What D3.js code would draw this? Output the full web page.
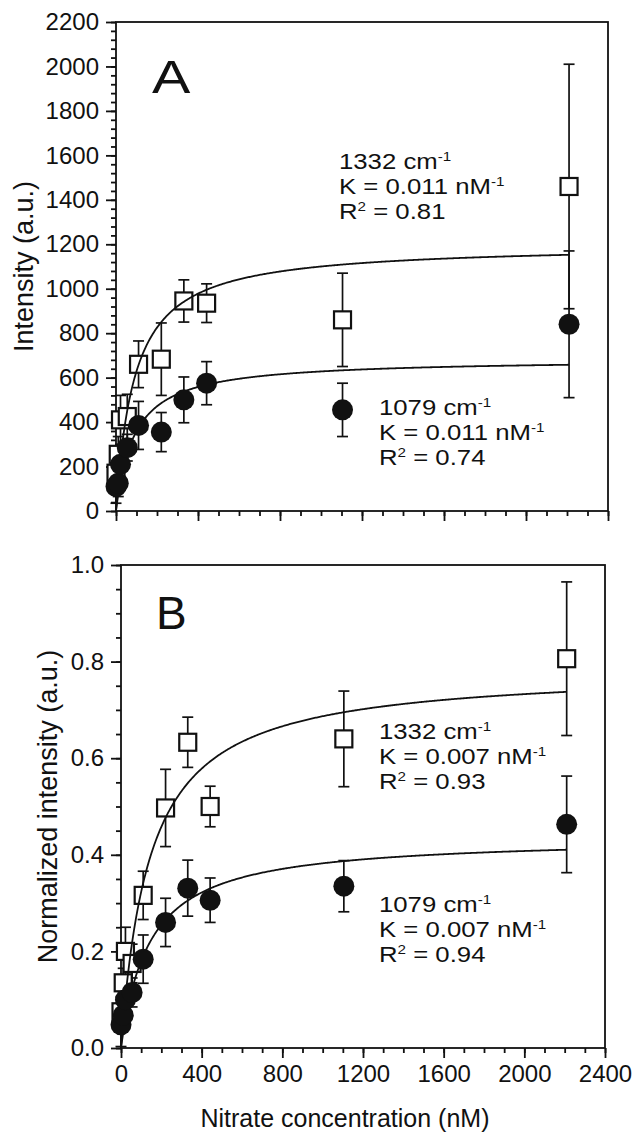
<!DOCTYPE html>
<html>
<head>
<meta charset="utf-8">
<script src="https://cdn.jsdelivr.net/npm/d3@7"></script>
<style>
  body { margin: 0; background: #fff; }
  text { font-family: "Liberation Sans", Arial, sans-serif; fill: #111; }
</style>
</head>
<body>
<div id="chart"></div>
<script>
// nitrate concentrations (nM), same for every series
var conc = [0, 11, 22, 55, 110, 221, 331, 442, 1105, 2210];

// panel A: raw intensity
var sqA     = [170, 255, 410, 425, 660, 683, 945, 935, 860, 1460];
var sqAErr  = [40, 80, 110, 100, 105, 163, 95, 87, 210, 550];
var dotA    = [110, 125, 210, 285, 385, 355, 500, 575, 455, 840];
var dotAErr = [75, 60, 60, 60, 108, 88, 103, 97, 120, 330];

// panel B: normalized intensity
var sqB     = [0.075, 0.135, 0.20, 0.175, 0.316, 0.497, 0.633, 0.50, 0.64, 0.806];
var sqBErr  = [0.03, 0.03, 0.05, 0.04, 0.05, 0.08, 0.052, 0.042, 0.099, 0.159];
var dotB    = [0.048, 0.068, 0.10, 0.115, 0.184, 0.26, 0.331, 0.306, 0.335, 0.463];
var dotBErr = [0.045, 0.03, 0.03, 0.03, 0.05, 0.05, 0.058, 0.046, 0.053, 0.10];

// fit parameters (Langmuir: y = ymax*K*x/(1+K*x))
var fitA = { K: 0.011, sq: 1200, dot: 685 };
var fitB = { K: 0.007, sq: 0.785, dot: 0.437 };

// annotations
var notesA = [["1332", "0.011", "0.81"], ["1079", "0.011", "0.74"]];
var notesB = [["1332", "0.007", "0.93"], ["1079", "0.007", "0.94"]];

var width = 636, height = 1134;

var svg = d3.select("#chart").append("svg")
  .attr("width", width)
  .attr("height", height);

function drawPanel(p) {
  var x = d3.scaleLinear().domain([0, 2400]).range([p.left, p.right]);
  var y = d3.scaleLinear().domain([0, p.ymax]).range([p.bottom, p.top]);
  var g = svg.append("g");

  // box
  g.append("rect")
    .attr("x", p.left).attr("y", p.top)
    .attr("width", p.right - p.left).attr("height", p.bottom - p.top)
    .attr("fill", "none").attr("stroke", "#111").attr("stroke-width", 1.8);

  // minor ticks
  var yMinor = d3.axisLeft(y).tickValues(d3.range(0, p.ymax + p.yminor / 2, p.yminor))
    .tickSize(5).tickFormat("");
  g.append("g").attr("transform", "translate(" + p.left + ",0)").call(yMinor);
  var xMinor = d3.axisBottom(x).tickValues(d3.range(0, 2401, 100)).tickSize(5).tickFormat("");
  g.append("g").attr("transform", "translate(0," + p.bottom + ")").call(xMinor);

  // major ticks
  var yAxis = d3.axisLeft(y).tickValues(d3.range(0, p.ymax + p.ymajor / 2, p.ymajor))
    .tickSize(10).tickPadding(7).tickFormat(p.yfmt);
  g.append("g").attr("transform", "translate(" + p.left + ",0)").call(yAxis);
  var xAxis = d3.axisBottom(x).tickValues(d3.range(0, 2401, 400)).tickSize(10).tickPadding(7)
    .tickFormat(p.xlabels ? d3.format("d") : "");
  g.append("g").attr("transform", "translate(0," + p.bottom + ")").call(xAxis);

  g.selectAll(".domain").remove();
  g.selectAll(".tick line").attr("stroke", "#111").attr("stroke-width", 1.8);
  g.selectAll(".tick text").attr("font-size", 24).attr("fill", "#111")
    .style("font-family", "'Liberation Sans', Arial, sans-serif");

  // y label
  g.append("text")
    .attr("transform", "translate(" + p.ylabelX + "," + ((p.top + p.bottom) / 2) + ") rotate(-90)")
    .attr("text-anchor", "middle")
    .attr("font-size", 27)
    .text(p.ylabel);

  // panel letter
  g.append("text")
    .attr("transform", "translate(" + p.letterX + "," + p.letterY + ") scale(" + p.letterSx + ",1)")
    .attr("font-size", 46)
    .text(p.letter);

  var idx = d3.range(conc.length);

  function errBars(vals, errs) {
    var eb = g.append("g").attr("stroke", "#111").attr("stroke-width", 1.7);
    eb.selectAll(".v").data(idx).enter().append("line")
      .attr("x1", function(i) { return x(conc[i]); })
      .attr("x2", function(i) { return x(conc[i]); })
      .attr("y1", function(i) { return y(vals[i] - errs[i]); })
      .attr("y2", function(i) { return y(vals[i] + errs[i]); });
    [-1, 1].forEach(function(s) {
      eb.selectAll(".c" + s).data(idx).enter().append("line")
        .attr("x1", function(i) { return x(conc[i]) - 5.5; })
        .attr("x2", function(i) { return x(conc[i]) + 5.5; })
        .attr("y1", function(i) { return y(vals[i] + s * errs[i]); })
        .attr("y2", function(i) { return y(vals[i] + s * errs[i]); });
    });
  }

  errBars(p.sq, p.sqErr);
  errBars(p.dot, p.dotErr);

  // open squares
  g.append("g").selectAll("rect").data(idx).enter().append("rect")
    .attr("x", function(i) { return x(conc[i]) - 8.5; })
    .attr("y", function(i) { return y(p.sq[i]) - 8.5; })
    .attr("width", 17).attr("height", 17)
    .attr("fill", "#fff").attr("stroke", "#111").attr("stroke-width", 2.2);

  // fit curves
  var xs = d3.range(0, 2211, 5);
  var line = d3.line().x(function(d) { return x(d[0]); }).y(function(d) { return y(d[1]); });
  [p.fit.sq, p.fit.dot].forEach(function(ymax) {
    g.append("path")
      .datum(xs.map(function(c) { return [c, ymax * p.fit.K * c / (1 + p.fit.K * c)]; }))
      .attr("d", line)
      .attr("fill", "none").attr("stroke", "#111").attr("stroke-width", 1.8);
  });

  // filled circles
  g.append("g").selectAll("circle").data(idx).enter().append("circle")
    .attr("cx", function(i) { return x(conc[i]); })
    .attr("cy", function(i) { return y(p.dot[i]); })
    .attr("r", 10.5)
    .attr("fill", "#111");

  // annotations (slightly widened type, as in the original figure)
  p.notes.forEach(function(n, k) {
    var t = g.append("g")
      .attr("transform", "translate(" + p.noteX[k] + "," + p.noteY[k] + ") scale(1.17,1)")
      .attr("font-size", 22);
    var l1 = t.append("text").attr("y", 0);
    l1.append("tspan").text(n[0] + " cm");
    l1.append("tspan").attr("font-size", 13).attr("dy", -8).text("-1");
    var l2 = t.append("text").attr("y", 24.8);
    l2.append("tspan").text("K = " + n[1] + " nM");
    l2.append("tspan").attr("font-size", 13).attr("dy", -8).text("-1");
    var l3 = t.append("text").attr("y", 49.6);
    l3.append("tspan").text("R");
    l3.append("tspan").attr("font-size", 13).attr("dy", -8).text("2");
    l3.append("tspan").attr("dy", 8).text(" = " + n[2]);
  });
}

drawPanel({
  left: 116, right: 608, top: 22, bottom: 511,
  ymax: 2200, ymajor: 200, yminor: 40, yfmt: d3.format("d"),
  xlabels: false,
  ylabel: "Intensity (a.u.)", ylabelX: 33,
  letter: "A", letterX: 152, letterY: 93, letterSx: 1.25,
  sq: sqA, sqErr: sqAErr, dot: dotA, dotErr: dotAErr, fit: fitA,
  notes: notesA, noteX: [339, 379], noteY: [169, 415]
});

drawPanel({
  left: 121, right: 605, top: 565, bottom: 1048,
  ymax: 1.0, ymajor: 0.2, yminor: 0.05, yfmt: d3.format(".1f"),
  xlabels: true,
  ylabel: "Normalized intensity (a.u.)", ylabelX: 57,
  letter: "B", letterX: 156, letterY: 629, letterSx: 1.0,
  sq: sqB, sqErr: sqBErr, dot: dotB, dotErr: dotBErr, fit: fitB,
  notes: notesB, noteX: [379, 379], noteY: [739, 912]
});

// x label
svg.append("text")
  .attr("x", 345).attr("y", 1127)
  .attr("text-anchor", "middle")
  .attr("font-size", 25)
  .text("Nitrate concentration (nM)");
</script>
</body>
</html>
